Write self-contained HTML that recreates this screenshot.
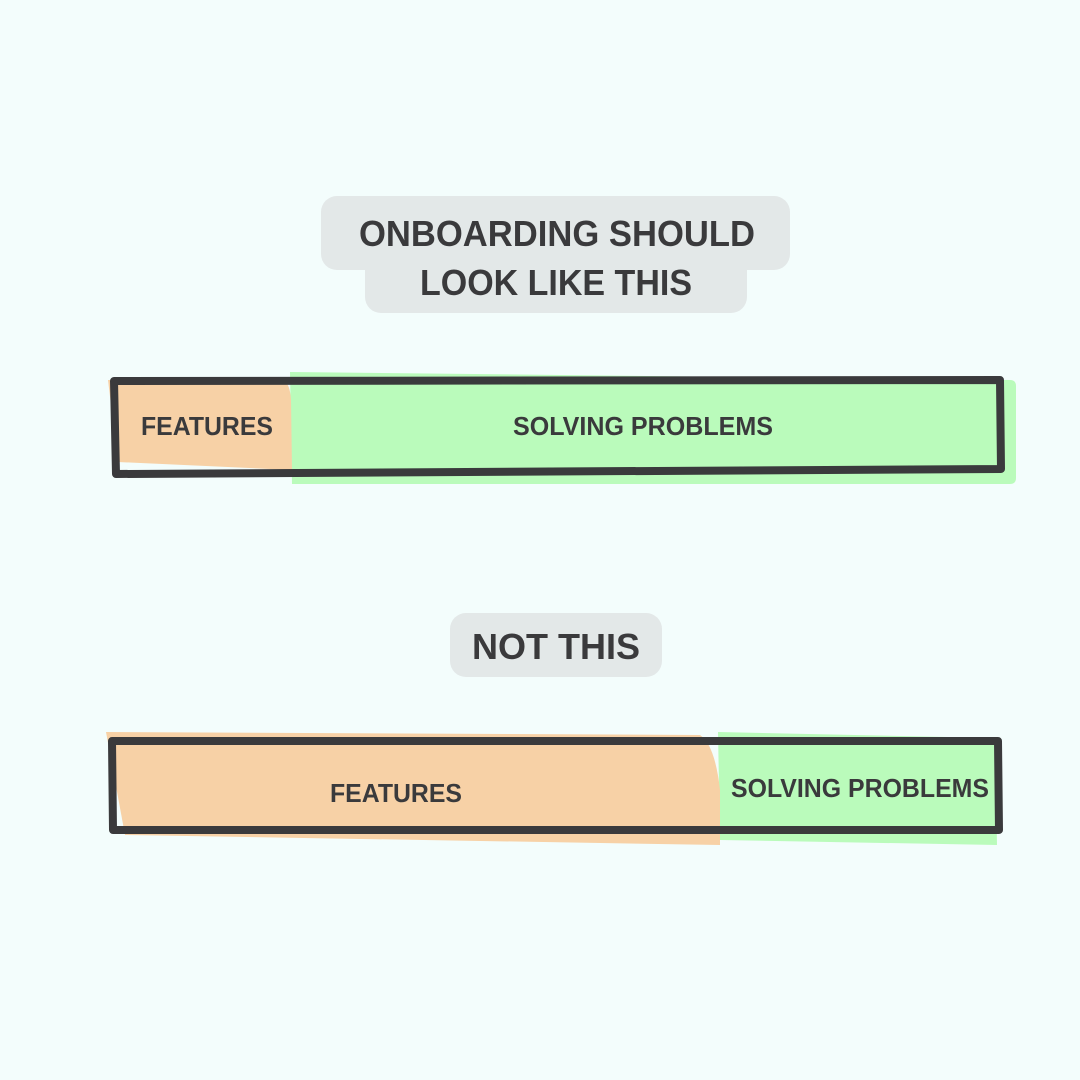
<!DOCTYPE html>
<html><head><meta charset="utf-8"><style>
html,body{margin:0;padding:0;background:#f3fdfc;}
svg{display:block}
text{font-family:"Liberation Sans",sans-serif;fill:#3a3a3c;font-weight:bold;}
</style></head><body>
<svg width="1080" height="1080" viewBox="0 0 1080 1080">
<rect width="1080" height="1080" fill="#f3fdfc"/>
<rect x="321" y="196" width="469" height="74" rx="16" fill="#e3e8e8"/>
<rect x="365" y="250" width="382" height="63" rx="16" fill="#e3e8e8"/>
<text x="557" y="246" font-size="36" text-anchor="middle" textLength="396" lengthAdjust="spacingAndGlyphs">ONBOARDING SHOULD</text>
<text x="556" y="295" font-size="36" text-anchor="middle" textLength="272" lengthAdjust="spacingAndGlyphs">LOOK LIKE THIS</text>
<rect x="450" y="613" width="212" height="64" rx="16" fill="#e3e8e8"/>
<text x="556" y="659" font-size="36" text-anchor="middle" textLength="168" lengthAdjust="spacingAndGlyphs">NOT THIS</text>

<!-- bar 1 -->
<path d="M290 372 L1010 380 Q1016 380 1016 386 L1016 478 Q1016 484 1010 484 L292 484 Z" fill="#bafbbb"/>
<path d="M108 380 L282 380 Q290 382 291 400 L292 470 L118 462 Z" fill="#f7d1a6"/>
<path d="M114 381 L1000 380 L1001 469 L116 474 Z" fill="none" stroke="#3a3a3c" stroke-width="8" stroke-linejoin="round"/>
<text x="207" y="435" font-size="26" text-anchor="middle" textLength="132" lengthAdjust="spacingAndGlyphs" font-weight="normal">FEATURES</text>
<text x="643" y="435" font-size="26" text-anchor="middle" textLength="260" lengthAdjust="spacingAndGlyphs" font-weight="normal">SOLVING PROBLEMS</text>

<!-- bar 2 -->
<path d="M718 732 L995 738 L997 845 L720 840 Z" fill="#bafbbb"/>
<path d="M106 732 L700 735 Q715 745 720 790 L720 845 L125 835 Z" fill="#f7d1a6"/>
<path d="M112 741 L998 741 L999 830 L113 830 Z" fill="none" stroke="#3a3a3c" stroke-width="8" stroke-linejoin="round"/>
<text x="396" y="802" font-size="26" text-anchor="middle" textLength="132" lengthAdjust="spacingAndGlyphs" font-weight="normal">FEATURES</text>
<text x="860" y="797" font-size="26" text-anchor="middle" textLength="258" lengthAdjust="spacingAndGlyphs" font-weight="normal">SOLVING PROBLEMS</text>
</svg>
</body></html>
